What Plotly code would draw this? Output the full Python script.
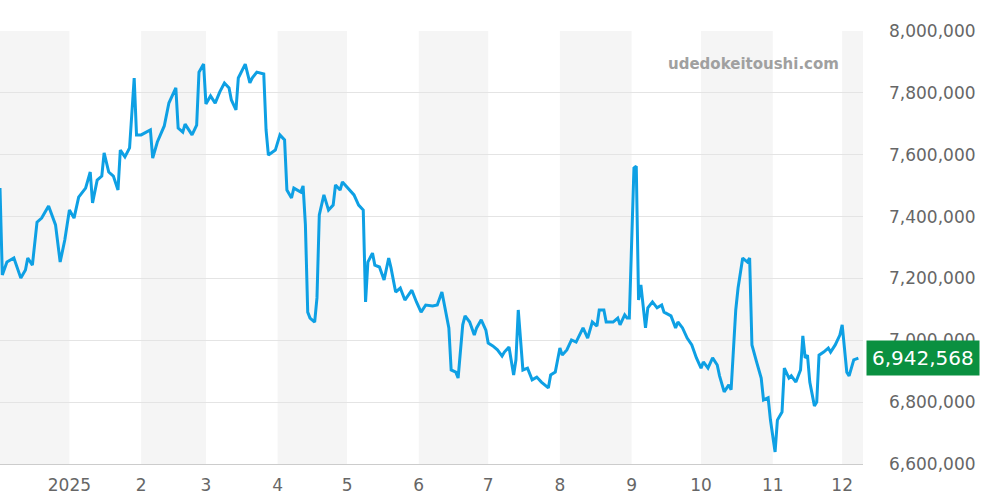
import plotly.graph_objects as go
import datetime as dt

start = dt.date(2024, 12, 2)
days = [0,1,3,6,9,11,12,14,16,18,21,24,26,28,30,32,34,37,39,40,42,44,45,47,49,51,52,54,56,58,59,61,65,66,68,70,71,73,76,77,79,80,83,85,86,88,89,91,93,95,97,99,100,102,103,106,108,109,111,114,115,116,119,121,123,124,126,127,130,131,132,133,134,136,137,138,140,142,144,145,147,148,151,153,155,157,158,159,161,162,164,166,168,169,171,173,175,178,180,182,184,187,189,191,194,195,197,198,200,201,203,205,206,208,210,211,213,215,217,218,220,222,223,224,226,228,230,232,234,237,238,240,242,243,245,247,249,252,254,256,258,259,261,262,265,267,268,270,271,272,274,275,276,277,279,280,282,284,286,287,290,292,293,295,297,299,301,303,304,306,308,310,311,313,315,316,318,319,321,323,324,325,327,329,330,332,333,335,336,338,339,341,342,344,346,347,348,349,350,352,353,354,356,358,359,361,363,364,366,367,369,371]
values_k = [7492,7211,7253,7266,7201,7227,7266,7243,7382,7395,7434,7373,7253,7324,7421,7395,7463,7492,7544,7444,7518,7531,7606,7544,7531,7486,7615,7593,7622,7848,7664,7664,7680,7589,7641,7680,7693,7767,7816,7686,7673,7699,7664,7696,7867,7893,7764,7790,7767,7803,7832,7816,7777,7745,7848,7893,7832,7848,7867,7861,7680,7599,7615,7664,7648,7486,7460,7492,7479,7499,7373,7091,7072,7059,7137,7405,7470,7421,7437,7502,7486,7512,7486,7470,7437,7421,7124,7253,7282,7243,7237,7195,7266,7234,7156,7169,7130,7162,7124,7091,7114,7111,7114,7156,7040,6904,6897,6878,7050,7079,7059,7017,7040,7066,7033,6991,6982,6969,6949,6962,6978,6888,6937,7098,6904,6910,6872,6881,6865,6846,6888,6897,6975,6952,6969,7001,6994,7040,7007,7059,7046,7098,7098,7059,7059,7072,7050,7082,7072,7072,7557,7563,7130,7179,7040,7105,7124,7105,7114,7091,7079,7040,7059,7040,7007,6985,6943,6910,6930,6910,6943,6920,6885,6833,6856,6840,7098,7169,7266,7253,7266,6985,6930,6878,6807,6814,6742,6639,6742,6768,6910,6878,6885,6865,6904,7014,6943,6952,6865,6788,6800,6952,6962,6975,6962,6985,7017,7050,6897,6885,6937,6942.568]
dates = [start + dt.timedelta(days=d) for d in days]
values = [v * 1000 for v in values_k]

tick_dates = ["2025-01-01","2025-02-01","2025-03-01","2025-04-01","2025-05-01","2025-06-01",
              "2025-07-01","2025-08-01","2025-09-01","2025-10-01","2025-11-01","2025-12-01"]
tick_text = ["2025","2","3","4","5","6","7","8","9","10","11","12"]
bands = [("2024-12-02","2025-01-01"),("2025-02-01","2025-03-01"),("2025-04-01","2025-05-01"),
         ("2025-06-01","2025-07-01"),("2025-08-01","2025-09-01"),("2025-10-01","2025-11-01"),
         ("2025-12-01","2025-12-10")]
x_end = "2025-12-10"

fig = go.Figure()
fig.add_trace(go.Scatter(x=dates, y=values, mode="lines",
                         line=dict(color="#0ea0e4", width=3), hoverinfo="skip"))
for a, b in bands:
    fig.add_shape(type="rect", xref="x", yref="paper", x0=a, x1=b, y0=0, y1=1,
                  fillcolor="#f5f5f5", line_width=0, layer="below")
fig.add_annotation(xref="paper", yref="paper", x=0.975, y=0.95, xanchor="right",
                   text="<b>udedokeitoushi.com</b>", showarrow=False,
                   font=dict(size=15, color="#a0a0a0", family="DejaVu Sans"))
fig.add_annotation(xref="paper", yref="y", x=1.004, y=values[-1], xanchor="left",
                   text="6,942,568", showarrow=False, bgcolor="#0a9040",
                   font=dict(size=20, color="white", family="DejaVu Sans"),
                   borderpad=5)
fig.update_layout(
    width=1000, height=500, margin=dict(l=0, r=137, t=31, b=36),
    plot_bgcolor="white", paper_bgcolor="white", showlegend=False,
    font=dict(family="DejaVu Sans", color="#666", size=17),
    xaxis=dict(range=["2024-12-02", x_end], tickvals=tick_dates, ticktext=tick_text,
               showgrid=False, ticks="", automargin=False, ticklabelstandoff=6,
               showline=True, linecolor="#ccc", zeroline=False),
    yaxis=dict(side="right", range=[6600000, 8000000], dtick=200000, tickformat=",",
               gridcolor="#e4e4e4", zeroline=False, ticks="", ticklabelstandoff=25,
               automargin=False),
)
fig.write_html("out.html", config={"displayModeBar": False},
               post_script="document.body.style.margin='0';")
